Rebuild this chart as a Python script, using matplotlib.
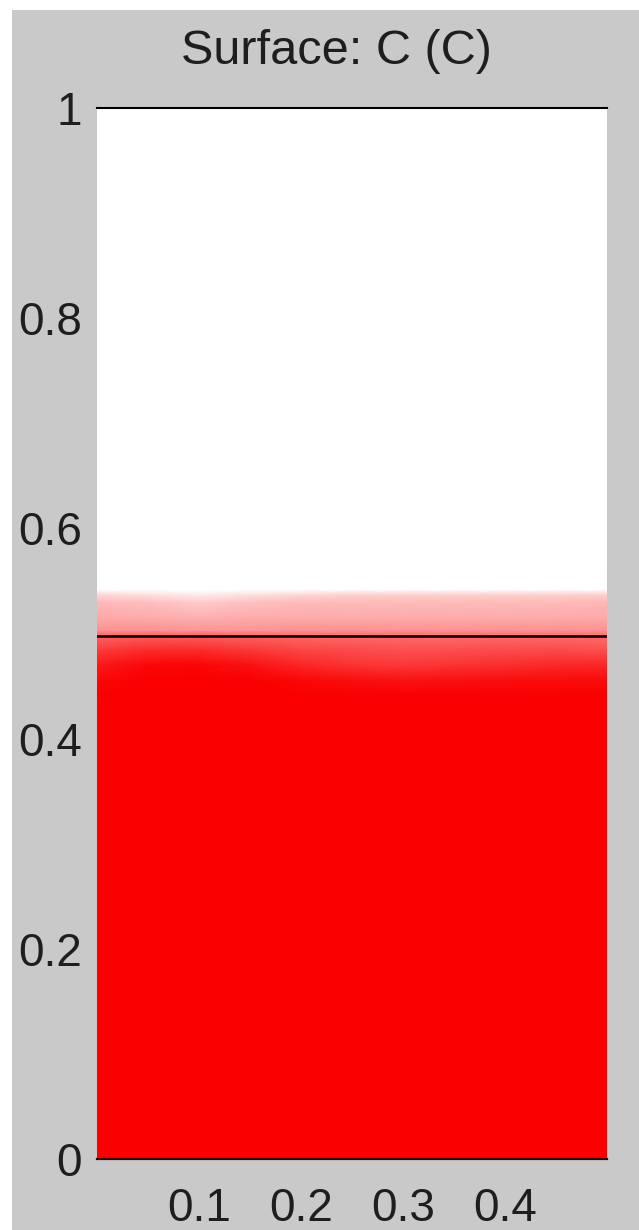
import numpy as np
import matplotlib
matplotlib.use("Agg")
import matplotlib.pyplot as plt
from matplotlib.colors import LinearSegmentedColormap
from matplotlib.patches import Rectangle

# grid of the surface plot (x along width, y along height)
x_nodes = [0.0, 0.05, 0.1, 0.15, 0.2, 0.25, 0.3, 0.35, 0.4, 0.45, 0.5]
y_nodes = [0.0, 0.44, 0.455, 0.47, 0.485, 0.497, 0.503, 0.515, 0.53, 0.537, 0.542, 1.0]

# concentration C, one row per y node
c_values = [
    [1.00] * 11,
    [1.00] * 11,
    [0.97, 1.00, 1.00, 1.00, 0.97, 0.95, 0.93, 0.94, 0.95, 0.96, 0.96],
    [0.90, 0.97, 0.98, 0.93, 0.85, 0.80, 0.78, 0.80, 0.82, 0.84, 0.85],
    [0.76, 0.82, 0.82, 0.77, 0.72, 0.70, 0.68, 0.69, 0.70, 0.70, 0.68],
    [0.62, 0.64, 0.64, 0.62, 0.60, 0.59, 0.58, 0.58, 0.59, 0.59, 0.58],
    [0.43, 0.43, 0.42, 0.42, 0.43, 0.43, 0.43, 0.43, 0.43, 0.43, 0.43],
    [0.34, 0.33, 0.31, 0.33, 0.33, 0.33, 0.33, 0.33, 0.33, 0.33, 0.34],
    [0.27, 0.25, 0.20, 0.24, 0.27, 0.27, 0.27, 0.27, 0.27, 0.27, 0.28],
    [0.16, 0.12, 0.08, 0.12, 0.16, 0.18, 0.18, 0.18, 0.18, 0.18, 0.19],
    [0.00] * 11,
    [0.00] * 11,
]
interface_y = 0.498

x_ticks = [0.1, 0.2, 0.3, 0.4]
y_ticks = [0, 0.2, 0.4, 0.6, 0.8, 1]
y_tick_labels = ["0", "0.2", "0.4", "0.6", "0.8", "1"]

plt.rcParams["font.family"] = ["Liberation Sans", "DejaVu Sans"]

fig = plt.figure(figsize=(6.39, 12.30), dpi=100, facecolor="white")
# grey panel with a thin white margin on the left and top
fig.patches.append(Rectangle((12 / 639, 0), 1, 1 - 10 / 1230, transform=fig.transFigure,
                             facecolor="#c9c9c9", edgecolor="none", zorder=-10))

ax = fig.add_axes([97 / 639, 1 - 1159 / 1230, 510 / 639, 1051 / 1230])
ax.set_facecolor("white")

cmap = LinearSegmentedColormap.from_list("white_red", ["#ffffff", "#fa0000"])
X, Y = np.meshgrid(x_nodes, y_nodes)
ax.pcolormesh(X, Y, np.array(c_values), cmap=cmap, vmin=0, vmax=1, shading="gouraud")

ax.axhline(interface_y, color="#1a0000", lw=1.9)
ax.set_xlim(0, 0.5)
ax.set_ylim(0, 1)

for side in ["left", "right"]:
    ax.spines[side].set_visible(False)
ax.spines["top"].set_linewidth(1.5)
ax.spines["bottom"].set_linewidth(1.6)
ax.spines["bottom"].set_color("#3a0000")

ax.set_xticks(x_ticks)
ax.set_xticklabels([str(t) for t in x_ticks])
ax.set_yticks(y_ticks)
ax.set_yticklabels(y_tick_labels)
ax.tick_params(axis="both", length=0, labelsize=33, colors="#1e1e1e")
ax.tick_params(axis="y", pad=11)
ax.tick_params(axis="x", pad=20)

fig.text(336 / 639, 1 - 51 / 1230, "Surface: C (C)", ha="center", va="center",
         fontsize=35, color="#1e1e1e")

fig.savefig("out.png", dpi=100, facecolor=fig.get_facecolor())
